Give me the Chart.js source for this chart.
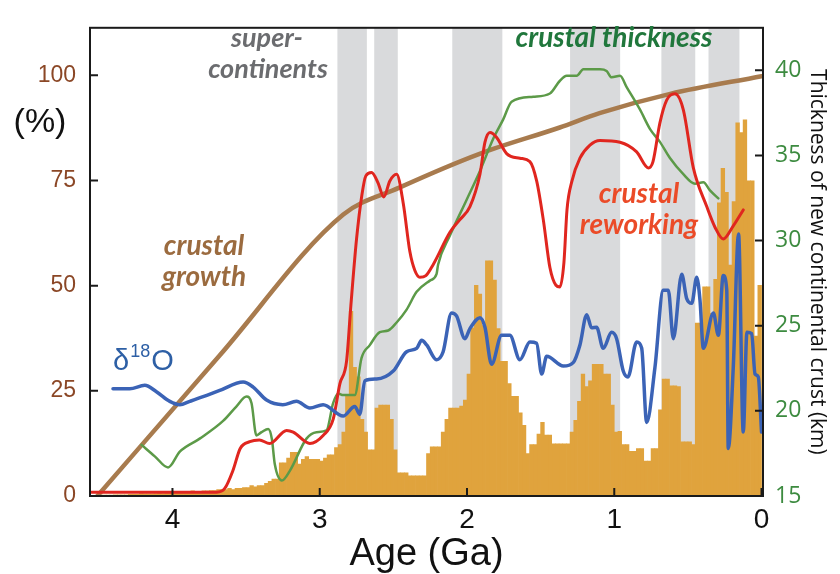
<!DOCTYPE html>
<html>
<head>
<meta charset="utf-8">
<script src="https://cdn.jsdelivr.net/npm/chart.js@4/dist/chart.umd.min.js"></script>
<style>
  html, body { margin: 0; padding: 0; background: #fff; }
  canvas { display: block; }
</style>
</head>
<body>
<canvas id="chart" width="840" height="574"></canvas>
<script>
// ages in Ga (older to the left), values on the left (%) axis unless noted
var growthAge = [4.51, 3.68, 2.84, 2.46, 1.91, 1.37, 1.10, 0.62, 0];
var growthPct = [0, 33.4, 66.9, 73.3, 81.4, 87.6, 91.0, 95.6, 99.8];

var reworkAge = [4.55, 3.70, 3.645, 3.59, 3.54, 3.475, 3.41, 3.34, 3.225, 3.18,
                 3.067, 2.977, 2.909, 2.863, 2.818, 2.789, 2.75, 2.714, 2.687, 2.648,
                 2.605, 2.565, 2.524, 2.478, 2.433, 2.388, 2.354, 2.32, 2.279, 2.23,
                 2.116, 2.048, 1.98, 1.912, 1.878, 1.844, 1.80, 1.731, 1.641, 1.573,
                 1.527, 1.482, 1.437, 1.396, 1.369, 1.342, 1.321, 1.287, 1.233, 1.165,
                 1.097, 0.961, 0.848, 0.769, 0.737, 0.69, 0.644, 0.588, 0.531, 0.463,
                 0.372, 0.316, 0.26, 0.194, 0.124];
var reworkPct = [0.9, 0.9, 1.8, 6.0, 11.3, 12.9, 13.3, 12.5, 15.6, 15.2,
                 12.5, 14.4, 18.2, 26.7, 32.0, 45.1, 61.1, 71.5, 76.1, 76.9,
                 74.5, 71.1, 74.9, 76.5, 69.6, 58.1, 53.6, 52.0, 52.4, 55.0,
                 62.7, 65.7, 68.8, 76.5, 84.1, 86.4, 85.3, 81.4, 80.3, 79.5,
                 74.9, 65.7, 54.3, 50.1, 49.7, 55.4, 68.0, 74.9, 80.3, 83.4,
                 84.5, 84.1, 81.8, 78.0, 79.5, 88.7, 94.1, 95.6, 91.8, 78.0,
                 68.8, 63.9, 61.1, 64.1, 68.0];

// crustal thickness, km (right axis)
var thickAge = [4.21, 4.12, 4.03, 3.95, 3.815, 3.656, 3.565, 3.497, 3.463, 3.43,
                3.395, 3.35, 3.325, 3.305, 3.257, 3.203, 3.09, 3.022, 2.954, 2.909,
                2.875, 2.841, 2.762, 2.716, 2.66, 2.592, 2.535, 2.478, 2.41, 2.342,
                2.252, 2.207, 2.196, 2.116, 2.003, 1.912, 1.822, 1.754, 1.697, 1.55,
                1.437, 1.369, 1.323, 1.255, 1.21, 1.097, 1.052, 1.018, 0.961, 0.916,
                0.825, 0.757, 0.69, 0.622, 0.531, 0.452, 0.395, 0.35, 0.293];
var thickKm = [18.0, 17.33, 16.68, 17.61, 18.37, 19.41, 20.27, 20.84, 20.45, 18.56,
               18.75, 18.94, 18.35, 16.86, 15.91, 16.48, 18.37, 18.75, 18.85, 20.45,
               21.02, 20.93, 20.93, 23.11, 23.86, 24.62, 24.72, 25.19, 25.95, 26.99,
               27.65, 28.03, 28.6, 30.3, 32.39, 34.09, 35.98, 37.12, 38.16, 38.45,
               38.64, 39.39, 39.68, 39.68, 40.06, 40.06, 39.96, 39.59, 39.68, 39.02,
               37.69, 36.55, 35.8, 34.85, 33.9, 33.34, 33.43, 32.95, 32.48];

var d18OAge = [4.404, 4.29, 4.188, 4.109, 4.018, 3.95, 3.882, 3.792, 3.679, 3.52,
               3.452, 3.361, 3.251, 3.158, 3.067, 2.977, 2.841, 2.762, 2.728, 2.694,
               2.614, 2.501, 2.41, 2.342, 2.308, 2.274, 2.207, 2.162, 2.105, 2.071,
               2.014, 1.98, 1.912, 1.878, 1.833, 1.765, 1.709, 1.641, 1.573, 1.527,
               1.493, 1.459, 1.346, 1.279, 1.233, 1.187, 1.154, 1.12, 1.075, 1.018,
               0.984, 0.939, 0.907, 0.848, 0.814, 0.78, 0.724, 0.667, 0.633, 0.599,
               0.542, 0.508, 0.474, 0.44, 0.418, 0.395, 0.327, 0.293, 0.26, 0.236,
               0.226, 0.192, 0.156, 0.124, 0.099, 0.067, 0.044, 0.022, 0.0];
var d18OVal = [25.5, 25.5, 26.3, 24.8, 22.5, 21.7, 22.5, 23.6, 25.1, 27.1,
               25.9, 22.8, 21.7, 22.5, 20.9, 21.7, 19.0, 21.3, 19.4, 27.4,
               27.8, 29.7, 34.3, 35.1, 37.0, 35.9, 32.4, 34.3, 43.5, 42.8,
               37.4, 39.8, 42.4, 40.1, 31.3, 38.2, 38.2, 32.4, 36.6, 36.3,
               29.0, 33.2, 30.9, 31.7, 35.9, 43.1, 40.0, 40.1, 35.1, 38.9,
               37.4, 29.7, 28.3, 36.6, 35.2, 17.5, 30.5, 48.9, 48.9, 37.4,
               52.7, 46.9, 45.8, 52.0, 46.6, 35.1, 43.5, 38.2, 52.4, 48.9,
               11.3, 30.5, 62.3, 15.2, 38.9, 38.6, 29.0, 28.3, 15.2];

// zircon age histogram, 0.025 Ga bins, youngest bin first
var zirconBin = 0.025;
var zirconCounts = [
  50.1, 38.0, 74.9, 74.9, 89.4, 86.4, 88.7, 70.0, 54.9, 72.2,
  77.9, 69.7, 51.5, 43.4, 49.7, 49.7, 41.1, 41.1, 12.2, 12.9,
  12.9, 12.9, 26.0, 26.2, 26.2, 27.8, 27.8, 20.5, 11.3, 11.3,
  8.3, 8.3, 11.3, 11.3, 10.6, 10.6, 12.2, 12.2, 15.4, 15.2,
  21.6, 29.0, 29.0, 31.3, 31.3, 31.3, 27.4, 26.0, 29.0, 22.5,
  18.0, 15.2, 12.4, 12.4, 12.4, 12.4, 12.4, 14.5, 14.5, 17.5,
  14.7, 12.2, 12.2, 10.1, 16.8, 19.8, 23.7, 23.7, 26.7, 32.0,
  32.0, 39.8, 51.3, 55.9, 55.9, 40.5, 48.0, 50.1, 40.0, 29.0,
  22.8, 21.4, 20.9, 20.9, 20.9, 18.2, 15.2, 11.7, 11.7, 11.7,
  10.1, 4.8, 4.8, 4.8, 4.8, 4.8, 5.5, 5.5, 5.5, 11.0,
  18.2, 21.6, 21.6, 21.6, 20.9, 11.0, 11.0, 15.2, 18.2, 28.3,
  30.6, 43.9, 23.7, 15.2, 12.2, 11.5, 9.8, 9.8, 9.0, 8.3,
  8.7, 8.7, 8.7, 9.4, 8.7, 7.6, 10.4, 10.4, 9.0, 7.9,
  7.9, 4.0, 4.0, 3.5, 3.0, 2.5, 2.5, 2.2, 2.5, 2.0,
  2.0, 1.8, 1.8, 1.5, 1.8, 1.5, 1.5, 1.5, 1.3, 1.3,
  1.2, 1.2, 1.0, 1.0, 1.2, 0.9, 0.9, 0.8, 0.8, 0.9,
  0.7, 0.7, 0.6, 0.8, 0.6, 0.5, 0.5, 0.5, 0.6, 0.4,
  0.4, 0.4, 0.3, 0.3, 0.3, 0.3, 0.2, 0.2, 0.2, 0.2
];

// supercontinent intervals [older, younger] in Ga
var supercontinents = [[2.88, 2.68], [2.63, 2.47], [2.10, 1.76], [1.30, 0.96], [0.68, 0.45], [0.36, 0.15]];

var ageTicks = [0, 1, 2, 3, 4];
var pctTicks = [0, 25, 50, 75, 100];
var kmTicks = [15, 20, 25, 30, 35, 40];

function pairs(xs, ys) {
  return xs.map(function(x, i) { return { x: x, y: ys[i] }; });
}

var zirconData = zirconCounts.map(function(v, i) {
  return { x: (i + 0.5) * zirconBin, y: v };
});

function setTicks(values) {
  return function(scale) {
    scale.ticks = values.map(function(v) { return { value: v }; });
  };
}

var decorations = {
  id: 'decorations',
  beforeDatasetsDraw: function(chart) {
    var ctx = chart.ctx, a = chart.chartArea, xs = chart.scales.x;
    ctx.save();
    ctx.fillStyle = '#d9dadc';
    supercontinents.forEach(function(b) {
      var x1 = xs.getPixelForValue(b[0]), x2 = xs.getPixelForValue(b[1]);
      ctx.fillRect(x1, a.top, x2 - x1, a.bottom - a.top);
    });
    ctx.restore();
  },
  afterDatasetsDraw: function(chart) {
    var ctx = chart.ctx, a = chart.chartArea;
    var xs = chart.scales.x, ys = chart.scales.y, ks = chart.scales.y2;
    ctx.save();
    // frame
    ctx.strokeStyle = '#1a1a1a';
    ctx.lineWidth = 2;
    ctx.strokeRect(a.left, a.top, a.right - a.left, a.bottom - a.top);
    // inward tick marks
    ctx.beginPath();
    ageTicks.forEach(function(v) {
      var p = xs.getPixelForValue(v);
      ctx.moveTo(p, a.bottom); ctx.lineTo(p, a.bottom - 8);
    });
    pctTicks.forEach(function(v) {
      var p = ys.getPixelForValue(v);
      ctx.moveTo(a.left, p); ctx.lineTo(a.left + 8, p);
    });
    kmTicks.forEach(function(v) {
      var p = ks.getPixelForValue(v);
      ctx.moveTo(a.right, p); ctx.lineTo(a.right - 8, p);
    });
    ctx.stroke();

    // labels
    ctx.textAlign = 'center';
    ctx.textBaseline = 'alphabetic';
    ctx.font = 'italic bold 27px Lato';
    ctx.fillStyle = '#6b6c6f';
    ctx.fillText('super-', 267, 47);
    ctx.fillText('continents', 268, 78);
    ctx.font = 'italic bold 28px Lato';
    ctx.fillStyle = '#20773c';
    ctx.fillText('crustal thickness', 614, 47);
    ctx.fillStyle = '#eb4b28';
    ctx.fillText('crustal', 639, 203);
    ctx.fillText('reworking', 639, 234);
    ctx.fillStyle = '#9b6b3f';
    ctx.fillText('crustal', 204, 255);
    ctx.fillText('growth', 204, 286);

    ctx.fillStyle = '#111';
    ctx.font = '34px "Liberation Sans"';
    ctx.fillText('(%)', 40, 132);

    // delta 18 O
    ctx.textAlign = 'left';
    ctx.fillStyle = '#2d5fa5';
    ctx.font = '29px "Liberation Sans"';
    var x0 = 113;
    ctx.fillText('\u03b4', x0, 370);
    x0 += ctx.measureText('\u03b4').width + 1;
    ctx.font = '18px "Liberation Sans"';
    ctx.fillText('18', x0, 357);
    x0 += ctx.measureText('18').width + 1;
    ctx.font = '29px "Liberation Sans"';
    ctx.fillText('O', x0, 370);
    ctx.restore();
  }
};

var ctx = document.getElementById('chart').getContext('2d');
var chart = new Chart(ctx, {
  type: 'line',
  data: {
    datasets: [
      {
        label: 'crustal growth',
        data: pairs(growthAge, growthPct),
        borderColor: '#a87b4e',
        borderWidth: 4.5,
        yAxisID: 'y',
        order: 4
      },
      {
        label: 'crustal thickness',
        data: pairs(thickAge, thickKm),
        borderColor: '#5c9a48',
        borderWidth: 2.5,
        yAxisID: 'y2',
        order: 3
      },
      {
        label: 'crustal reworking',
        data: pairs(reworkAge, reworkPct),
        borderColor: '#e0261f',
        borderWidth: 3,
        yAxisID: 'y',
        order: 2
      },
      {
        label: 'd18O',
        data: pairs(d18OAge, d18OVal),
        borderColor: '#3b63b6',
        borderWidth: 3.5,
        yAxisID: 'y',
        order: 1
      },
      {
        type: 'bar',
        label: 'zircon ages',
        data: zirconData,
        backgroundColor: '#e0a33d',
        borderWidth: 0,
        barPercentage: 1,
        categoryPercentage: 1,
        grouped: false,
        yAxisID: 'y',
        order: 10
      }
    ]
  },
  options: {
    responsive: false,
    animation: false,
    events: [],
    layout: { padding: { top: 12, left: 0, right: 0, bottom: 0 } },
    elements: {
      point: { radius: 0 },
      line: { cubicInterpolationMode: 'monotone', fill: false, borderCapStyle: 'round', borderJoinStyle: 'round' }
    },
    plugins: {
      legend: { display: false },
      tooltip: { enabled: false }
    },
    scales: {
      x: {
        type: 'linear',
        reverse: true,
        min: -0.01,
        max: 4.56,
        offset: false,
        afterBuildTicks: setTicks(ageTicks),
        afterFit: function(s) { s.height = 78; },
        grid: { display: false, drawTicks: false },
        border: { display: false },
        ticks: {
          color: '#111',
          font: { family: 'Liberation Sans', size: 28 },
          padding: 7,
          maxRotation: 0
        },
        title: {
          display: true,
          text: 'Age (Ga)',
          color: '#111',
          font: { family: 'Liberation Sans', size: 38, lineHeight: 1 },
          padding: { top: 0, bottom: 0 }
        }
      },
      y: {
        type: 'linear',
        position: 'left',
        min: 0,
        max: 111.3,
        afterBuildTicks: setTicks(pctTicks),
        afterFit: function(s) { s.width = 90; },
        grid: { display: false, drawTicks: false },
        border: { display: false },
        ticks: {
          color: '#8b4726',
          font: { family: 'Liberation Sans', size: 23 },
          padding: 14
        }
      },
      y2: {
        type: 'linear',
        position: 'right',
        min: 15,
        max: 42.5,
        afterBuildTicks: setTicks(kmTicks),
        afterFit: function(s) { s.width = 77; },
        grid: { display: false, drawTicks: false },
        border: { display: false },
        ticks: {
          color: '#3d8b40',
          font: { family: 'Open Sans', size: 23 },
          padding: 12
        },
        title: {
          display: true,
          text: 'Thickness of new continental crust (km)',
          color: '#111',
          font: { family: 'Open Sans', size: 21 },
          padding: { top: 10, bottom: 0 }
        }
      }
    }
  },
  plugins: [decorations]
});
</script>
</body>
</html>
